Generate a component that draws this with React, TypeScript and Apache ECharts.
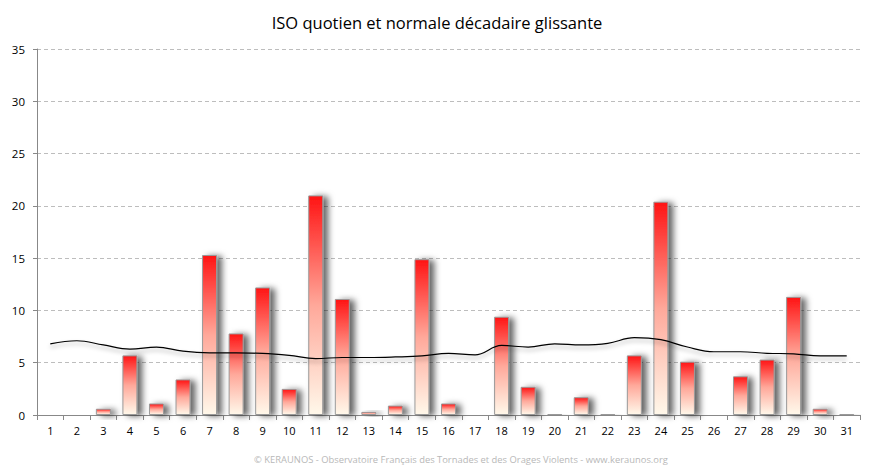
import React, { useEffect, useRef } from "react";
import * as echarts from "echarts";

const days = Array.from({ length: 31 }, (_, i) => String(i + 1));
const isoValues = [0.05, 0.02, 0.6, 5.7, 1.1, 3.4, 15.3, 7.8, 12.2, 2.5, 21.0, 11.1, 0.3, 0.9, 14.9, 1.1, 0, 9.4, 2.7, 0.1, 1.7, 0.1, 5.7, 20.4, 5.1, 0, 3.7, 5.3, 11.3, 0.6, 0.1];
const normalValues = [6.8, 7.1, 6.7, 6.3, 6.5, 6.1, 5.95, 5.95, 5.9, 5.7, 5.4, 5.5, 5.5, 5.55, 5.65, 5.9, 5.75, 6.65, 6.5, 6.8, 6.7, 6.85, 7.4, 7.2, 6.5, 6.05, 6.05, 5.9, 5.85, 5.65, 5.65];
const yTicks = [0, 5, 10, 15, 20, 25, 30, 35];

const titleText = "ISO quotien et normale décadaire glissante";
const footerText = "© KERAUNOS - Observatoire Français des Tornades et des Orages Violents - www.keraunos.org";
const font = "'Open Sans', 'Noto Sans', sans-serif";

export default function App() {
  const ref = useRef<HTMLDivElement>(null);
  useEffect(() => {
    if (!ref.current) return;
    const chart = echarts.init(ref.current, null, { renderer: "svg" });
    chart.setOption({
      animation: false,
      backgroundColor: "#ffffff",
      title: {
        text: titleText,
        left: "center",
        top: 9,
        textStyle: { fontFamily: font, fontSize: 16.5, fontWeight: "normal", color: "#000" },
      },
      graphic: [
        {
          type: "text",
          x: 461,
          y: 459,
          style: {
            text: footerText,
            fill: "#b8b8b8",
            font: `9.4px ${font}`,
            textAlign: "center",
            textVerticalAlign: "middle",
          },
        },
      ],
      grid: { left: 37, right: 14, top: 49, bottom: 56 },
      xAxis: {
        type: "category",
        data: days,
        boundaryGap: true,
        axisLine: { lineStyle: { color: "#888", width: 1 } },
        axisTick: { show: true, alignWithLabel: false, length: 5, lineStyle: { color: "#888" } },
        axisLabel: { color: "#000", fontFamily: font, fontSize: 11, margin: 10 },
        splitLine: { show: false },
      },
      yAxis: {
        type: "value",
        min: yTicks[0],
        max: yTicks[yTicks.length - 1],
        interval: 5,
        axisLine: { show: true, lineStyle: { color: "#888", width: 1 } },
        axisTick: { show: true, length: 4, lineStyle: { color: "#888" } },
        axisLabel: { color: "#000", fontFamily: font, fontSize: 11.5, margin: 12 },
        splitLine: { show: true, lineStyle: { color: "#bdbdbd", type: [4, 3], width: 1 } },
      },
      series: [
        {
          type: "bar",
          data: isoValues,
          barWidth: 15,
          itemStyle: {
            color: new echarts.graphic.LinearGradient(0, 0, 0, 1, [
              { offset: 0, color: "#ff1414" },
              { offset: 0.5, color: "#ffa89a" },
              { offset: 1, color: "#fff8ea" },
            ]),
            borderColor: "#999",
            borderWidth: 1,
            shadowColor: "rgba(0,0,0,0.6)",
            shadowBlur: 6,
            shadowOffsetX: 5,
            shadowOffsetY: 1,
          },
          z: 2,
        },
        {
          type: "line",
          data: normalValues,
          smooth: 0.4,
          symbol: "none",
          lineStyle: {
            color: "#000",
            width: 1.2,
            shadowColor: "rgba(0,0,0,0.35)",
            shadowBlur: 4,
            shadowOffsetY: 3,
          },
          z: 3,
        },
      ],
    });
    return () => chart.dispose();
  }, []);
  return <div ref={ref} style={{ width: 874, height: 471, position: "absolute", left: 0, top: 0 }} />;
}
